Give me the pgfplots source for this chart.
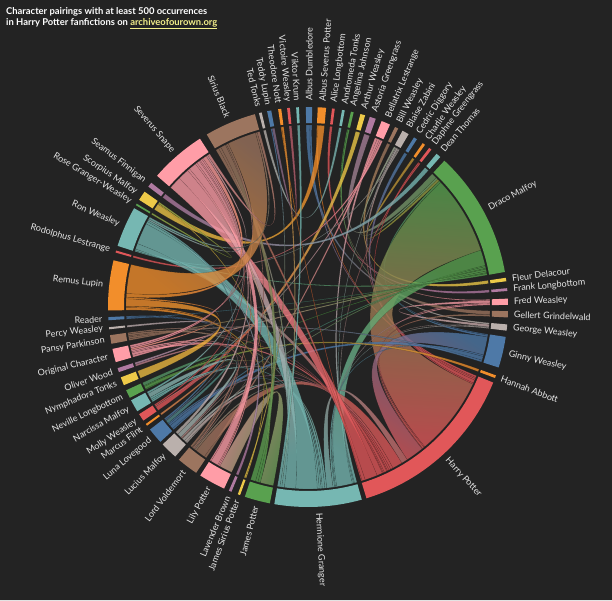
\documentclass[border=0pt]{standalone}
\usepackage{pgfplots}
\usepackage{pgfplotstable}
\pgfplotsset{compat=1.18}
\usepackage{fontspec}
\setmainfont{Lato}

\definecolor{bg}{HTML}{232323}
\definecolor{lbl}{HTML}{E6E6E6}
\definecolor{link}{HTML}{F2EE8A}
% tableau 10
\definecolor{c0}{HTML}{4E79A7}
\definecolor{c1}{HTML}{F28E2B}
\definecolor{c2}{HTML}{E15759}
\definecolor{c3}{HTML}{76B7B2}
\definecolor{c4}{HTML}{59A14F}
\definecolor{c5}{HTML}{EDC948}
\definecolor{c6}{HTML}{B07AA1}
\definecolor{c7}{HTML}{FF9DA7}
\definecolor{c8}{HTML}{9C755F}
\definecolor{c9}{HTML}{BAB0AC}

% characters, start of the arc in degrees clockwise from the top
\pgfplotstableread[col sep=comma]{
name,start
Albus Dumbledore,-0.6
Albus Severus Potter,2.8
Alice Longbottom,6.9
Andromeda Tonks,9.8
Angelina Johnson,12.4
Arthur Weasley,15.2
Astoria Greengrass,18.0
Bellatrix Lestrange,21.6
Bill Weasley,25.8
Blaise Zabini,28.2
Cedric Diggory,32.0
Charlie Weasley,35.0
Daphne Greengrass,37.3
Dean Thomas,40.0
Draco Malfoy,43.0
Fleur Delacour,81.6
Frank Longbottom,84.6
Fred Weasley,87.6
Gellert Grindelwald,91.2
George Weasley,95.0
Ginny Weasley,98.6
Hannah Abbott,110.0
Harry Potter,112.2
Hermione Granger,164.4
James Potter,191.0
James Sirius Potter,199.85
Lavender Brown,202.5
Lily Potter,204.8
Lord Voldemort,214.0
Lucius Malfoy,221.6
Luna Lovegood,227.6
Marcus Flint,233.6
Molly Weasley,235.4
Narcissa Malfoy,238.6
Neville Longbottom,243.0
Nymphadora Tonks,247.0
Oliver Wood,251.0
Original Character,254.0
Pansy Parkinson,259.4
Percy Weasley,263.6
Reader,266.2
Remus Lupin,269.0
Rodolphus Lestrange,285.8
Ron Weasley,287.8
Rose Granger-Weasley,300.6
Scorpius Malfoy,302.4
Seamus Finnigan,307.0
Severus Snape,311.0
Sirius Black,329.6
Ted Tonks,345.8
Teddy Lupin,348.2
Theodore Nott,351.4
Victoire Weasley,354.0
Viktor Krum,356.6
}\groups

% pairings (row numbers of the characters above), ribbon width in degrees
\pgfplotstableread{
i j w
0 18 1.2
0 22 0.6
1 22 0.4
1 45 2.0
2 16 0.8
3 49 0.8
4 17 0.3
4 19 0.5
5 32 1.4
6 14 1.8
7 23 0.8
7 28 0.7
7 33 0.5
7 42 0.6
8 15 1.0
9 14 0.6
9 20 0.3
9 22 0.5
9 23 0.3
9 43 0.3
10 22 1.0
11 14 0.8
12 22 0.4
12 23 0.4
13 46 1.4
14 20 0.6
14 22 25.0
14 23 5.0
14 29 0.4
14 30 0.5
14 34 0.3
14 37 0.6
14 38 0.5
14 40 0.3
14 43 0.5
17 19 0.8
17 22 0.3
17 23 0.4
18 22 0.6
19 22 0.2
19 23 0.3
20 22 5.8
20 23 0.5
20 30 1.2
20 38 0.6
21 34 0.8
22 23 2.0
22 28 3.2
22 29 0.8
22 30 0.6
22 33 0.5
22 34 0.3
22 37 0.8
22 38 0.4
22 40 0.3
22 43 1.8
22 47 4.0
22 48 1.0
22 51 0.3
23 28 0.6
23 29 0.8
23 30 0.4
23 33 0.6
23 38 0.6
23 43 6.8
23 47 3.6
23 48 0.8
23 51 0.6
23 53 0.8
24 27 4.2
24 41 0.8
24 47 0.8
24 48 1.6
25 45 0.3
25 50 0.4
26 43 0.8
27 37 0.4
27 41 0.4
27 47 2.4
27 48 0.4
28 29 0.3
28 37 0.5
28 40 0.3
28 47 0.6
29 32 0.4
29 33 1.4
29 47 0.9
30 34 1.0
30 38 0.4
30 43 0.5
31 36 0.6
32 47 0.4
33 47 0.6
35 41 2.4
36 39 0.6
37 41 0.5
37 47 0.5
37 48 0.6
41 47 1.2
41 48 9.2
43 47 0.5
43 48 0.6
44 45 0.5
47 48 0.8
50 52 0.8
}\pairs

\newcommand\Ro{200}   % outer radius of the arcs
\newcommand\Ri{184}   % inner radius of the arcs
\newcommand\Rr{182}   % radius where ribbons end
\newcommand\Rc{60.667}% control points of the ribbons (Rr/3)

\begin{document}
\begin{tikzpicture}
\begin{axis}[hide axis, x=1pt, y=1pt, xmin=0, xmax=612, ymin=0, ymax=600,
  clip=false, name=ax]
\addplot[fill=bg, draw=none] coordinates {(0,0) (612,0) (612,600) (0,600) (0,0)};

\node[anchor=base west, inner sep=0pt, text=white,
  font=\bfseries\fontsize{9.4}{11}\selectfont] at (axis cs:6,585.5)
  {Character pairings with at least 500 occurrences};
\node[anchor=base west, inner sep=0pt, text=white,
  font=\bfseries\fontsize{9.4}{11}\selectfont] at (axis cs:6,574.5)
  {in Harry Potter fanfictions on \textcolor{link}{\underline{archiveofourown.org}}};

\pgfplotsextra{
\begin{scope}[shift={(axis cs:308,293)}]
  % arc widths = sum of the pairings of each character
  \foreach \k in {0,...,53}{\expandafter\xdef\csname gw\k\endcsname{0}}
  \pgfplotstablegetrowsof{\pairs}
  \pgfmathtruncatemacro\np{\pgfplotsretval-1}
  \foreach \r in {0,...,\np}{
    \pgfplotstablegetelem{\r}{i}\of\pairs \edef\ci{\pgfplotsretval}
    \pgfplotstablegetelem{\r}{j}\of\pairs \edef\cj{\pgfplotsretval}
    \pgfplotstablegetelem{\r}{w}\of\pairs \edef\cw{\pgfplotsretval}
    \pgfmathsetmacro\t{\csname gw\ci\endcsname+\cw}
    \expandafter\xdef\csname gw\ci\endcsname{\t}
    \pgfmathsetmacro\t{\csname gw\cj\endcsname+\cw}
    \expandafter\xdef\csname gw\cj\endcsname{\t}
  }
  \foreach \k in {0,...,53}{
    \pgfplotstablegetelem{\k}{start}\of\groups
    \expandafter\xdef\csname gs\k\endcsname{\pgfplotsretval}
    \expandafter\xdef\csname gc\k\endcsname{\pgfplotsretval}
  }
  % ribbons
  \foreach \r in {0,...,\np}{
    \pgfplotstablegetelem{\r}{i}\of\pairs \edef\ci{\pgfplotsretval}
    \pgfplotstablegetelem{\r}{j}\of\pairs \edef\cj{\pgfplotsretval}
    \pgfplotstablegetelem{\r}{w}\of\pairs \edef\cw{\pgfplotsretval}
    \edef\aa{\csname gc\ci\endcsname}
    \pgfmathsetmacro\ab{\aa+\cw}
    \expandafter\xdef\csname gc\ci\endcsname{\ab}
    \edef\ba{\csname gc\cj\endcsname}
    \pgfmathsetmacro\bb{\ba+\cw}
    \expandafter\xdef\csname gc\cj\endcsname{\bb}
    \pgfmathsetmacro\ma{(\aa+\ab)/2}
    \pgfmathsetmacro\mb{(\ba+\bb)/2}
    \pgfmathsetmacro\sa{atan2(cos(\mb)-cos(\ma),sin(\mb)-sin(\ma))-90}
    \pgfmathtruncatemacro\ki{mod(\ci,10)}
    \pgfmathtruncatemacro\kj{mod(\cj,10)}
    \path[bottom color=c\ki, top color=c\kj, shading angle=\sa,
      fill opacity=.78, draw=black, draw opacity=.25, line width=.3pt]
      ({90-(\aa)}:\Rr pt) arc[start angle={90-(\aa)}, end angle={90-(\ab)}, radius=\Rr pt]
      .. controls ({90-(\ab)}:\Rc pt) and ({90-(\ba)}:\Rc pt) .. ({90-(\ba)}:\Rr pt)
      arc[start angle={90-(\ba)}, end angle={90-(\bb)}, radius=\Rr pt]
      .. controls ({90-(\bb)}:\Rc pt) and ({90-(\aa)}:\Rc pt) .. ({90-(\aa)}:\Rr pt) -- cycle;
  }
  % arcs and names
  \foreach \k in {0,...,53}{
    \edef\s{\csname gs\k\endcsname}
    \pgfmathsetmacro\e{\s+\csname gw\k\endcsname}
    \pgfmathtruncatemacro\kk{mod(\k,10)}
    \fill[c\kk] ({90-(\s)}:\Ro pt) arc[start angle={90-(\s)}, end angle={90-(\e)}, radius=\Ro pt]
      -- ({90-(\e)}:\Ri pt) arc[start angle={90-(\e)}, end angle={90-(\s)}, radius=\Ri pt] -- cycle;
    \pgfplotstablegetelem{\k}{name}\of\groups \let\nm\pgfplotsretval
    \pgfmathsetmacro\m{(\s+\e)/2}
    \pgfmathtruncatemacro\rt{\m<180 ? 1 : 0}
    \ifnum\rt=1
      \node[rotate={90-(\m)}, anchor=west, inner sep=0pt, text=lbl,
        font=\fontsize{9}{10}\selectfont] at ({90-(\m)}:206pt) {\nm};
    \else
      \node[rotate={270-(\m)}, anchor=east, inner sep=0pt, text=lbl,
        font=\fontsize{9}{10}\selectfont] at ({90-(\m)}:206pt) {\nm};
    \fi
  }
\end{scope}
}
\end{axis}
\pgfresetboundingbox
\path (ax.south west) rectangle (ax.north east);
\end{tikzpicture}
\end{document}
